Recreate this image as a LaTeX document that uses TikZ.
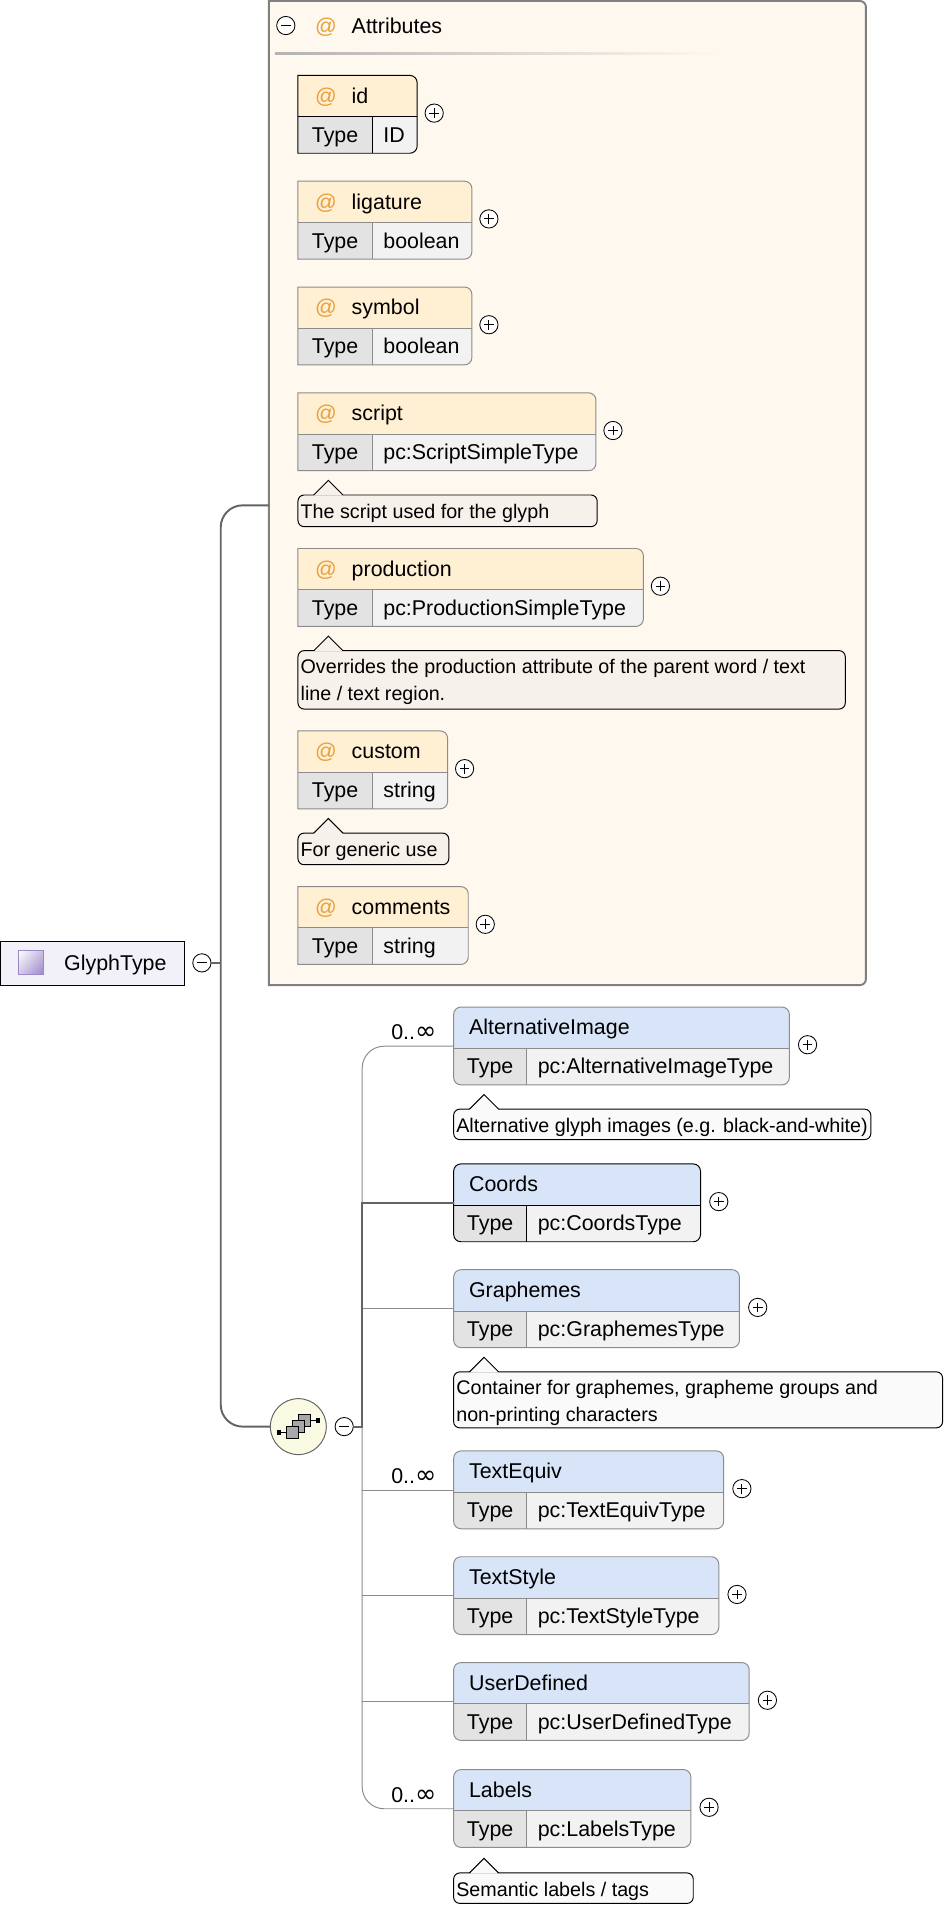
\documentclass[tikz,border=0pt]{standalone}
\usepackage{fontspec}
\setmainfont{Liberation Sans}
\newfontfamily\symbolfont{DejaVu Sans}
\usetikzlibrary{shadings}

\definecolor{panel}{HTML}{FEF8EE}
\definecolor{panelline}{HTML}{808080}
\definecolor{attrhead}{HTML}{FFEFD3}
\definecolor{elemhead}{HTML}{D8E4F7}
\definecolor{typecell}{HTML}{E3E3E3}
\definecolor{valuecell}{HTML}{F2F2F2}
\definecolor{greyline}{HTML}{8C8C8C}
\definecolor{darkline}{HTML}{646464}
\definecolor{notepanel}{HTML}{F6F2EB}
\definecolor{noteplain}{HTML}{FAFAFA}
\definecolor{atsign}{HTML}{E9A03A}
\definecolor{typenode}{HTML}{F2F0F8}
\definecolor{typeicon}{HTML}{9C87C9}
\definecolor{seqfill}{HTML}{FBFAE2}
\definecolor{seqsq}{HTML}{A8A8A8}

\newcommand\boxfont{\fontsize{17.6}{21}\selectfont}
\newcommand\notefont{\fontsize{16.2}{22}\selectfont}
\newcommand\unbounded{0..{\symbolfont\fontsize{21}{21}\selectfont ∞}}

\tikzset{
  txt/.style={inner sep=0, anchor=base west, font=\boxfont},
  ctxt/.style={inner sep=0, anchor=base, font=\boxfont},
  rtxt/.style={inner sep=0, anchor=base east, font=\boxfont},
  notetxt/.style={inner sep=0, anchor=base west, font=\notefont},
  optional/.style={draw=greyline, line width=0.8pt},
  required/.style={draw=black, line width=0.8pt},
  signcircle/.style={circle, draw=black, fill=white, line width=0.7pt,
    minimum size=15pt, inner sep=0},
  plusbtn/.style={signcircle, path picture={
    \draw[line width=0.7pt]
      ([xshift=-4pt]path picture bounding box.center) -- ([xshift=4pt]path picture bounding box.center)
      ([yshift=-4pt]path picture bounding box.center) -- ([yshift=4pt]path picture bounding box.center);}},
  minusbtn/.style={signcircle, path picture={
    \draw[line width=0.7pt]
      ([xshift=-4pt]path picture bounding box.center) -- ([xshift=4pt]path picture bounding box.center);}},
  mainline/.style={draw=darkline, line width=1.6pt},
  branch/.style={draw=greyline, line width=0.8pt},
  noteedge/.style={draw=black, line width=0.8pt},
}

% attribute box: #1 edge style, #2 name, #3 left, #4 top, #5 right, #6 name, #7 type
\newcommand\AttrBox[7]{%
  \fill[attrhead] (#3,#4) -- (#5-6,#4) arc[start angle=90,end angle=0,radius=6pt]
    -- (#5,#4+34) -- (#3,#4+34) -- cycle;
  \fill[typecell] (#3,#4+34) rectangle (#3+61,#4+64);
  \fill[valuecell] (#3+61,#4+34) -- (#5,#4+34) -- (#5,#4+58)
    arc[start angle=0,end angle=-90,radius=6pt] -- (#3+61,#4+64) -- cycle;
  \draw[#1] (#3,#4) -- (#5-6,#4) arc[start angle=90,end angle=0,radius=6pt]
    -- (#5,#4+58) arc[start angle=0,end angle=-90,radius=6pt] -- (#3,#4+64) -- cycle;
  \draw[#1] (#3,#4+34) -- (#5,#4+34) (#3+61,#4+34) -- (#3+61,#4+64);
  \node[inner sep=0, minimum width={#5-#3}, minimum height=64, anchor=north west] (#2) at (#3,#4) {};
  \node[txt, text=atsign] at (#3+14,#4+23) {@};
  \node[txt] at (#3+44,#4+23) {#6};
  \node[ctxt] at (#3+30.5,#4+55) {Type};
  \node[txt] at (#3+70,#4+55) {#7};
  \node[plusbtn] (#2-more) at (#5+14,#4+31) {};
}

% element box: #1 edge style, #2 name, #3 left, #4 top, #5 right, #6 name, #7 type
\newcommand\ElemBox[7]{%
  \begin{scope}
    \clip[rounded corners=6] (#3,#4) rectangle (#5,#4+64);
    \fill[elemhead] (#3,#4) rectangle (#5,#4+34);
    \fill[typecell] (#3,#4+34) rectangle (#3+60,#4+64);
    \fill[valuecell] (#3+60,#4+34) rectangle (#5,#4+64);
  \end{scope}
  \draw[#1, rounded corners=6] (#3,#4) rectangle (#5,#4+64);
  \draw[#1] (#3,#4+34) -- (#5,#4+34) (#3+60,#4+34) -- (#3+60,#4+64);
  \node[inner sep=0, minimum width={#5-#3}, minimum height=64, anchor=north west] (#2) at (#3,#4) {};
  \node[txt] at (#3+12.5,#4+23) {#6};
  \node[ctxt] at (#3+30,#4+55) {Type};
  \node[txt] at (#3+69,#4+55) {#7};
  \node[plusbtn] (#2-more) at (#5+15,#4+31) {};
}

% annotation with pointer: #1 fill, #2 name, #3 left, #4 top, #5 right, #6 bottom
\newcommand\NoteBox[6]{%
  \draw[noteedge, fill=#1, rounded corners=5] (#3,#4) rectangle (#5,#6);
  \fill[#1] (#3+13,#4+0.6) -- (#3+25,#4-12) -- (#3+37,#4+0.6) -- cycle;
  \draw[noteedge, line join=miter] (#3+13,#4) -- (#3+25,#4-12) -- (#3+37,#4);
  \node[inner sep=0, minimum width={#5-#3}, minimum height={#6-#4}, anchor=north west] (#2) at (#3,#4) {};
}

\begin{document}
\begin{tikzpicture}[x=1pt, y=-1pt]
\useasboundingbox (0,0) rectangle (781,1568);
\fill[white] (0,0) rectangle (781,1568);

% ---- attribute group panel
\fill[panel] (221,0.8) -- (707,0.8) arc[start angle=90,end angle=0,radius=5pt]
  -- (712,805) arc[start angle=0,end angle=-90,radius=5pt] -- (221,810) -- cycle;
\draw[draw=panelline, line width=1.6pt] (221,0.8) -- (707,0.8) arc[start angle=90,end angle=0,radius=5pt]
  -- (712,805) arc[start angle=0,end angle=-90,radius=5pt] -- (221,810) -- cycle;
\node[inner sep=0, minimum width=491, minimum height=809, anchor=north west] (attrs) at (221,0.8) {};
\node[minusbtn] (attrs-less) at (235,21) {};
\node[txt, text=atsign] at (259,27.5) {@};
\node[txt] at (289,27.5) {Attributes};
\shade[left color=panelline!60, middle color=panelline, right color=panel] (226,43.2) rectangle (590,45);

\AttrBox{required}{id}{245}{62}{343}{id}{ID}
\AttrBox{optional}{ligature}{245}{149}{388}{ligature}{boolean}
\AttrBox{optional}{symbol}{245}{236}{388}{symbol}{boolean}
\AttrBox{optional}{script}{245}{323}{490}{script}{pc:ScriptSimpleType}
\NoteBox{notepanel}{script-doc}{245}{407}{491}{433}
\node[notetxt] at (247,426) {The script used for the glyph};
\AttrBox{optional}{production}{245}{451}{529}{production}{pc:ProductionSimpleType}
\NoteBox{notepanel}{production-doc}{245}{535}{695}{583}
\node[notetxt] at (247,554) {Overrides the production attribute of the parent word / text};
\node[notetxt] at (247,576) {line / text region.};
\AttrBox{optional}{custom}{245}{601}{368}{custom}{string}
\NoteBox{notepanel}{custom-doc}{245}{685}{369}{711}
\node[notetxt] at (247,704) {For generic use};
\AttrBox{optional}{comments}{245}{729}{385}{comments}{string}

% ---- the complex type itself
\node[draw=black, line width=0.8pt, fill=typenode, minimum width=151, minimum height=36,
  inner sep=0, anchor=north west] (glyph) at (0,773.7) {};
\shade[upper left=white, upper right=typeicon!55, lower left=typeicon!45, lower right=typeicon]
  (14.8,781.8) rectangle (35.4,801.5);
\draw[typeicon, line width=0.8pt] (14.8,781.8) rectangle (35.4,801.5);
\node[txt] at (52.6,798) {GlyphType};
\node[minusbtn] (glyph-less) at (166,791.7) {};

% ---- sequence compositor
\node[circle, draw=darkline, line width=0.8pt, fill=seqfill, minimum size=46, inner sep=0] (seq) at (245.3,1173) {};
\begin{scope}[shift={(seq.center)}]
  \draw[line width=0.8pt] (-15,5) -- (-10,5) (10,-5) -- (15,-5);
  \fill (-17.5,3) rectangle (-14.5,7);
  \fill (14.5,-7) rectangle (17.5,-3);
  \draw[fill=seqsq, line width=0.7pt] (0,-10) rectangle (10,0);
  \draw[fill=seqsq, line width=0.7pt] (-5,-5) rectangle (5,5);
  \draw[fill=seqsq, line width=0.7pt] (-10,0) rectangle (0,10);
\end{scope}
\node[minusbtn] (seq-less) at (283,1173) {};

% ---- child elements
\ElemBox{optional}{altimage}{373}{828}{649}{AlternativeImage}{pc:AlternativeImageType}
\NoteBox{noteplain}{altimage-doc}{373}{912}{716}{937}
\node[notetxt] at (375,931) {Alternative glyph images (e.g. black-and-white)};
\ElemBox{required}{coords}{373}{957}{576}{Coords}{pc:CoordsType}
\ElemBox{optional}{graphemes}{373}{1044}{608}{Graphemes}{pc:GraphemesType}
\NoteBox{noteplain}{graphemes-doc}{373}{1128}{775}{1174}
\node[notetxt] at (375,1147) {Container for graphemes, grapheme groups and};
\node[notetxt] at (375,1169) {non-printing characters};
\ElemBox{optional}{textequiv}{373}{1193}{595}{TextEquiv}{pc:TextEquivType}
\ElemBox{optional}{textstyle}{373}{1280}{591}{TextStyle}{pc:TextStyleType}
\ElemBox{optional}{userdefined}{373}{1367}{616}{UserDefined}{pc:UserDefinedType}
\ElemBox{optional}{labels}{373}{1455}{568}{Labels}{pc:LabelsType}
\NoteBox{noteplain}{labels-doc}{373}{1540}{570}{1565}
\node[notetxt] at (375,1559) {Semantic labels / tags};

% ---- connectors
\coordinate (spine) at (181.5,791.7);
\coordinate (rail) at (297.8,1173);
\draw[mainline, rounded corners=18] ([yshift=-10pt]attrs.west) -| (spine);
\draw[mainline, rounded corners=18] (spine) |- (seq.west);
\draw[mainline] (glyph-less.east) -- (spine);

\draw[branch, rounded corners=18] (altimage.west) -| (rail);
\draw[branch, rounded corners=18] (rail) |- (labels.west);
\draw[branch] (rail |- graphemes.west) -- (graphemes.west);
\draw[branch] (rail |- textequiv.west) -- (textequiv.west);
\draw[branch] (rail |- textstyle.west) -- (textstyle.west);
\draw[branch] (rail |- userdefined.west) -- (userdefined.west);
\draw[mainline] (seq-less.east) -- (rail) -- (rail |- coords.west) -- (coords.west);

% ---- occurrence labels
\node[rtxt] at (359,855) {\unbounded};
\node[rtxt] at (359,1220) {\unbounded};
\node[rtxt] at (359,1482) {\unbounded};
\end{tikzpicture}
\end{document}
